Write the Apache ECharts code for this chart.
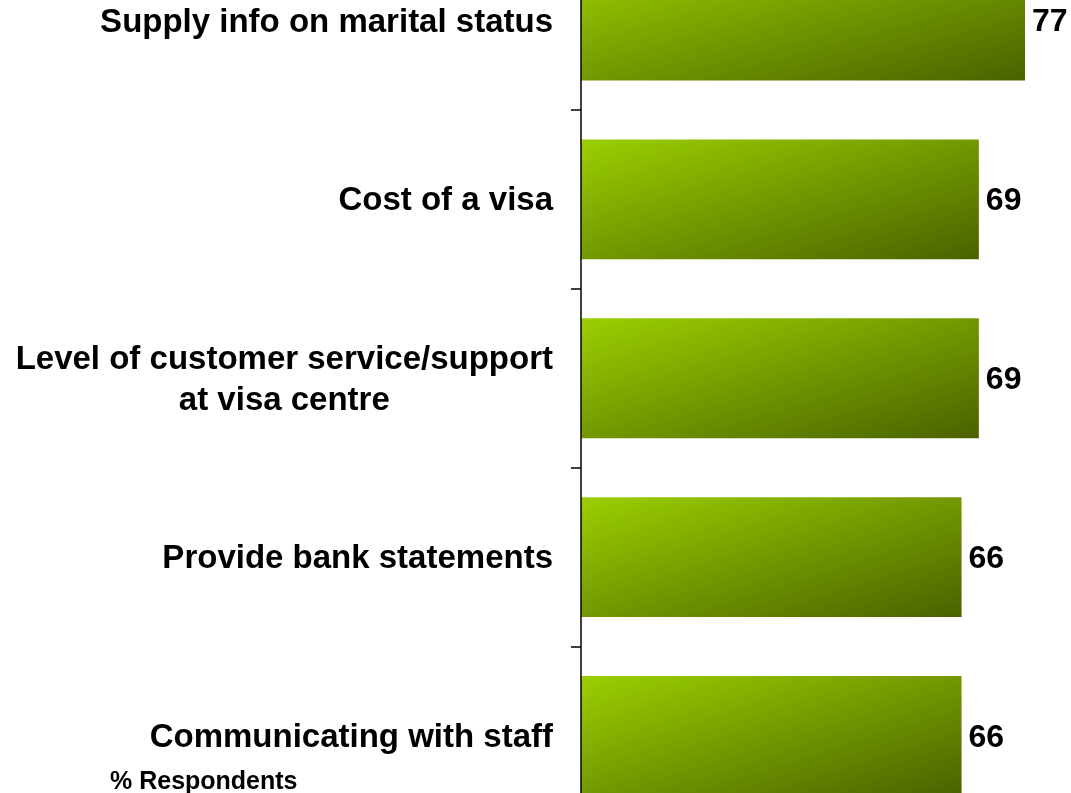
<!DOCTYPE html>
<html>
<head>
<meta charset="utf-8">
<script src="https://cdn.jsdelivr.net/npm/echarts@6/dist/echarts.min.js"></script>
<style>
  html, body { margin: 0; padding: 0; background: #fff; overflow: hidden; width: 1071px; height: 793px; }
  /* The plot runs past the top and bottom of the page, so the first and last bars are clipped */
  #chart { position: absolute; left: 0; top: -69px; width: 1071px; height: 895px; }
</style>
</head>
<body>
<div id="chart"></div>
<script>
// Categories, top to bottom
const categories = [
  'Supply info on marital status',
  'Cost of a visa',
  'Level of customer service/support\nat visa centre',
  'Provide bank statements',
  'Communicating with staff'
];
// % of respondents
const values = [77, 69, 69, 66, 66];
const unitNote = '% Respondents';

const FONT = '"Liberation Sans", Arial, sans-serif';
const PX_PER_UNIT = 5.766;   // horizontal scale of the value axis
const BAR_H = 120;

// Diagonal gradient whose colour bands run parallel to the bar's
// bottom-left / top-right diagonal.
function barGradient(v) {
  const w = v * PX_PER_UNIT, h = BAR_H;
  const s = h * h + w * w;
  return new echarts.graphic.LinearGradient(0, 0, 2 * h * h / s, 2 * w * w / s, [
    { offset: 0, color: '#9bcf00' },
    { offset: 1, color: '#4a6200' }
  ]);
}

const chart = echarts.init(document.getElementById('chart'), null, { renderer: 'canvas' });
chart.setOption({
  animation: false,
  backgroundColor: '#ffffff',
  grid: { left: 581, right: 28.7, top: 0, bottom: 0.5, containLabel: false },
  xAxis: {
    type: 'value', min: 0, max: 80, show: false
  },
  yAxis: {
    type: 'category',
    data: categories,
    inverse: true,
    z: 5,
    axisLine: { show: true, lineStyle: { color: '#000', width: 1.5 } },
    axisTick: { show: true, length: 10, lineStyle: { color: '#000', width: 1.5 } },
    axisLabel: {
      margin: 28,
      padding: [4, 0, 0, 0],
      fontFamily: FONT,
      fontWeight: 'bold',
      fontSize: 33,
      color: '#000',
      lineHeight: 41,
      formatter: function (v) {
        if (v.indexOf('\n') < 0) return v;
        return v.split('\n').map(s => '{m|' + s + '}').join('\n');
      },
      rich: {
        m: { align: 'center', fontFamily: FONT, fontWeight: 'bold', fontSize: 33, color: '#000', lineHeight: 41 }
      }
    },
    splitLine: { show: false }
  },
  series: [{
    type: 'bar',
    data: values.map(v => ({ value: v, itemStyle: { color: barGradient(v) } })),
    barCategoryGap: '33%',
    label: {
      show: true,
      position: 'right',
      distance: 7,
      offset: [0, 2],
      fontFamily: FONT,
      fontWeight: 'bold',
      fontSize: 32,
      color: '#000'
    }
  }],
  graphic: [{
    type: 'text',
    left: 110,
    top: 839,
    style: {
      text: unitNote,
      font: 'bold 25px ' + FONT,
      fill: '#000'
    }
  }]
});
</script>
</body>
</html>
